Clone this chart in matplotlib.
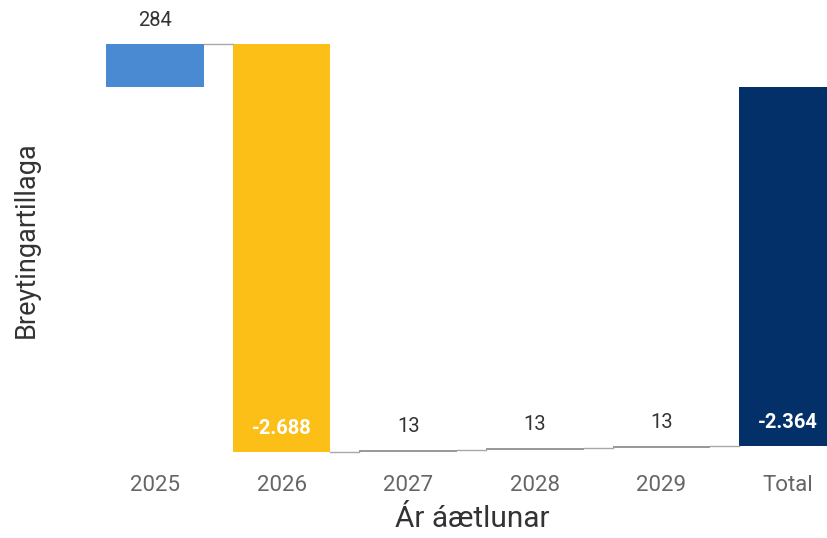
import numpy as np
import matplotlib
matplotlib.use("Agg")
import matplotlib.pyplot as plt

plt.rcParams['font.family'] = ['Roboto', 'DejaVu Sans']

categories = ['2025', '2026', '2027', '2028', '2029', 'Total']
changes = [284, -2688, 13, 13, 13]
total = -2364

colors = ['#4A8AD2', '#FCBF17', '#9A9A9A', '#9A9A9A', '#9A9A9A', '#04306A']
label_colors = ['#333333', 'white', '#333333', '#333333', '#333333', 'white']


def fmt(v):
    return f"{v:,}".replace(",", ".")


fig = plt.figure(figsize=(8.28, 5.38), dpi=100)
ax = fig.add_axes([0, 78 / 538, 1, 460 / 538])

x = np.arange(len(categories))
width = 0.77

# waterfall starts / ends
ends = np.cumsum(changes)
starts = np.concatenate([[0], ends[:-1]])
bottoms = list(np.minimum(starts, ends)) + [min(0, total)]
heights = list(np.abs(changes)) + [abs(total)]

ax.bar(x, heights, bottom=bottoms, width=width, color=colors, linewidth=0)

# connector lines
levels = list(ends)
for i in range(len(changes)):
    ax.plot([x[i] + width / 2, x[i + 1] - width / 2], [levels[i], levels[i]],
            color='#A8A8A8', linewidth=1)

# value labels
for i, v in enumerate(changes + [total]):
    if i < len(changes):
        top = max(starts[i], ends[i])
        low = min(starts[i], ends[i])
    else:
        top = max(0, total)
        low = min(0, total)
    if v < 0 and abs(v) > 1000:
        ax.annotate(fmt(v), (x[i], low), xytext=(0, 24), textcoords='offset pixels',
                    ha='center', va='center', color='white', fontsize=14.5,
                    fontweight='bold')
    else:
        ax.annotate(fmt(v), (x[i], top), xytext=(0, 24), textcoords='offset pixels',
                    ha='center', va='center', color=label_colors[i], fontsize=14.5)

ax.set_xlim((0 - 155) / 126.6, (828 - 155) / 126.6)
ax.set_ylim(-2456, 574)
ax.set_xticks(x)
ax.set_xticklabels(categories, fontsize=16, color='#666666')
ax.tick_params(axis='x', length=0, pad=11)
ax.set_yticks([])
for s in ax.spines.values():
    s.set_visible(False)

fig.text(472 / 828, 1 - 519 / 538, 'Ár áætlunar', ha='center', va='center',
         fontsize=21.5, color='#333333')
fig.text(26 / 828, 1 - 240 / 538, 'Breytingartillaga', ha='center', va='center',
         rotation=90, fontsize=19.5, color='#333333')

fig.savefig('out.png', dpi=100)
